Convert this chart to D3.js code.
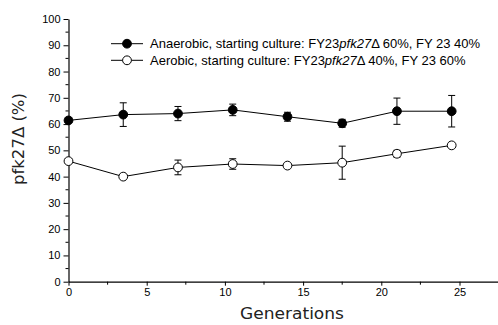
<!DOCTYPE html>
<html>
<head>
<meta charset="utf-8">
<script src="https://cdn.jsdelivr.net/npm/d3@7"></script>
<style>
  html, body { margin: 0; padding: 0; background: #fff; }
  svg { display: block; }
</style>
</head>
<body>
<div id="chart"></div>
<script>
// Data
const generations = [0, 3.5, 7, 10.5, 14, 17.5, 21, 24.5];
const anaerobicMean = [61.4, 63.6, 64.0, 65.4, 62.8, 60.3, 64.9, 64.9];
const anaerobicErr = [0.8, 4.5, 2.7, 2.2, 1.7, 1.5, 5.0, 6.0];
const aerobicMean = [45.9, 40.0, 43.5, 44.8, 44.2, 45.3, 48.7, 51.9];
const aerobicErr = [0.5, 0.6, 2.8, 2.0, 0.6, 6.3, 1.3, 0.8];
const xTicks = [0, 5, 10, 15, 20, 25];
const yTicks = [0, 10, 20, 30, 40, 50, 60, 70, 80, 90, 100];

const width = 498;
const height = 325;

// Plot area boundaries
const plotLeft = 68.5;
const plotTop = 19;
const plotBottom = 281.7;

const x = d3.scaleLinear().domain([0, 27.5]).range([plotLeft, 498.6]);
const y = d3.scaleLinear().domain([0, 100]).range([plotBottom, plotTop]);

const svg = d3.select("#chart").append("svg")
    .attr("width", width)
    .attr("height", height);

const tickFont = "'Liberation Sans', Arial, sans-serif";
const titleFont = "'DejaVu Sans', Verdana, sans-serif";

// Axes
const xAxis = svg.append("g")
    .attr("transform", `translate(0,${plotBottom})`)
    .call(d3.axisBottom(x).tickValues(xTicks).tickSize(4).tickPadding(3).tickSizeOuter(0));
const yAxis = svg.append("g")
    .attr("transform", `translate(${plotLeft},0)`)
    .call(d3.axisLeft(y).tickValues(yTicks).tickSize(5).tickPadding(3).tickSizeOuter(0));

[xAxis, yAxis].forEach(g => {
    g.select(".domain").attr("stroke", "#000").attr("stroke-width", 1.2);
    g.selectAll(".tick line").attr("stroke", "#000");
    g.selectAll(".tick text")
        .attr("font-family", tickFont)
        .attr("font-size", "11px")
        .attr("fill", "#000");
});

// Minor ticks
xAxis.selectAll(".minor")
    .data(d3.range(2.5, 27.5, 5))
    .join("line")
    .attr("x1", d => x(d)).attr("x2", d => x(d))
    .attr("y1", 0).attr("y2", 3)
    .attr("stroke", "#000");
yAxis.selectAll(".minor")
    .data(d3.range(5, 100, 10))
    .join("line")
    .attr("y1", d => y(d)).attr("y2", d => y(d))
    .attr("x1", 0).attr("x2", -3)
    .attr("stroke", "#000");

// Axis titles
svg.append("text")
    .attr("x", 292)
    .attr("y", 319)
    .attr("text-anchor", "middle")
    .attr("font-family", titleFont)
    .attr("font-size", "15px")
    .attr("textLength", 104)
    .attr("lengthAdjust", "spacingAndGlyphs")
    .attr("fill", "#222")
    .text("Generations");

svg.append("text")
    .attr("transform", "translate(24,139) rotate(-90)")
    .attr("text-anchor", "middle")
    .attr("font-family", titleFont)
    .attr("font-size", "16px")
    .attr("textLength", 92)
    .attr("lengthAdjust", "spacingAndGlyphs")
    .attr("fill", "#222")
    .text("pfk27\u0394 (%)");

// Series
const series = [
    { mean: anaerobicMean, err: anaerobicErr, fill: "#000" },
    { mean: aerobicMean, err: aerobicErr, fill: "#fff" }
];

const line = d3.line()
    .x(d => x(d[0]))
    .y(d => y(d[1]));

series.forEach(s => {
    const pts = generations.map((g, i) => [g, s.mean[i], s.err[i]]);

    svg.append("path")
        .datum(pts)
        .attr("fill", "none")
        .attr("stroke", "#000")
        .attr("stroke-width", 1)
        .attr("d", line);

    // Error bars
    const eb = svg.append("g").attr("stroke", "#000").attr("stroke-width", 1);
    pts.forEach(p => {
        const cx = x(p[0]);
        eb.append("line")
            .attr("x1", cx).attr("x2", cx)
            .attr("y1", y(p[1] + p[2])).attr("y2", y(p[1] - p[2]));
        [p[1] + p[2], p[1] - p[2]].forEach(v => {
            eb.append("line")
                .attr("x1", cx - 3.5).attr("x2", cx + 3.5)
                .attr("y1", y(v)).attr("y2", y(v));
        });
    });

    svg.append("g").selectAll("circle")
        .data(pts)
        .join("circle")
        .attr("cx", d => x(d[0]))
        .attr("cy", d => y(d[1]))
        .attr("r", 4.4)
        .attr("fill", s.fill)
        .attr("stroke", "#000")
        .attr("stroke-width", 1);
});

// Legend
const legendRows = [
    { fill: "#000", pre: "Anaerobic, starting culture: FY23", it: "pfk27", post: "\u0394 60%, FY 23 40%" },
    { fill: "#fff", pre: "Aerobic, starting culture: FY23", it: "pfk27", post: "\u0394 40%, FY 23 60%" }
];

legendRows.forEach((r, i) => {
    const ly = 43.7 + i * 16.6;
    svg.append("line")
        .attr("x1", 111).attr("x2", 143)
        .attr("y1", ly).attr("y2", ly)
        .attr("stroke", "#000");
    svg.append("circle")
        .attr("cx", 127).attr("cy", ly).attr("r", 4.4)
        .attr("fill", r.fill).attr("stroke", "#000");
    const t = svg.append("text")
        .attr("x", 150).attr("y", ly + 4.5)
        .attr("font-family", tickFont)
        .attr("font-size", "13px")
        .attr("fill", "#000");
    t.append("tspan").text(r.pre);
    t.append("tspan").attr("font-style", "italic").text(r.it);
    t.append("tspan").text(r.post);
});
</script>
</body>
</html>
